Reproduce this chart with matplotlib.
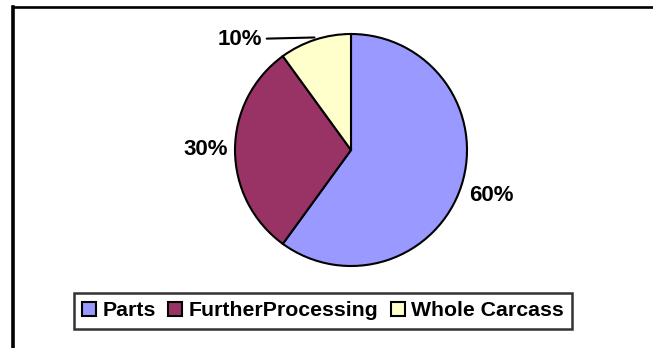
import numpy as np
import matplotlib
matplotlib.use("Agg")
import matplotlib.pyplot as plt
from matplotlib.lines import Line2D

categories = ["Parts", "FurtherProcessing", "Whole Carcass"]
shares = [60, 30, 10]
colors = ["#9999FF", "#993366", "#FFFFCC"]

plt.rcParams["font.family"] = ["Liberation Sans", "DejaVu Sans"]
plt.rcParams["font.weight"] = "bold"

W, H = 653, 348
fig = plt.figure(figsize=(W / 100, H / 100), dpi=100)
ax = fig.add_axes([0, 0, 1, 1])

wedges, _ = ax.pie(shares, colors=colors, startangle=90, counterclock=False,
                   radius=1, wedgeprops=dict(edgecolor="black", linewidth=1.5))

# pixel layout: centre (351,150), radius 116
cx, cy, r = 351, 150, 116
ax.set_xlim(-cx / r, (W - cx) / r)
ax.set_ylim(-(H - cy) / r, cy / r)
ax.set_aspect("auto")
ax.axis("off")

# percentage labels
label_dist = [1.27, 1.255, 1.35]
for w, v, d in zip(wedges, shares, label_dist):
    mid = np.deg2rad((w.theta1 + w.theta2) / 2)
    if v == 10:
        tang = np.deg2rad(135)
        ax.annotate(f"{v}%", xy=(np.cos(mid) * 1.02, np.sin(mid) * 1.02),
                    xytext=(d * np.cos(tang), d * np.sin(tang)),
                    ha="center", va="center", fontsize=16, fontweight="bold",
                    arrowprops=dict(arrowstyle="-", lw=1.5, color="black",
                                    shrinkA=1, shrinkB=0))
    else:
        ax.text(d * np.cos(mid), d * np.sin(mid), f"{v}%",
                ha="center", va="center", fontsize=16, fontweight="bold")

leg = fig.legend(wedges, categories, loc="center", ncol=3,
                 bbox_to_anchor=(323 / W, 1 - 311 / H),
                 prop=dict(weight="bold", size=15.3),
                 frameon=True, fancybox=False, shadow=False,
                 handlelength=0.64, handleheight=0.66, handletextpad=0.31,
                 columnspacing=0.6, borderpad=0.4)
leg.get_frame().set_edgecolor("black")
leg.get_frame().set_linewidth(1.8)

# outer chart border (only top and left visible)
fig.add_artist(Line2D([13 / W, 1], [1 - 6.5 / H, 1 - 6.5 / H],
                      transform=fig.transFigure, color="black", lw=1.9))
fig.add_artist(Line2D([13 / W, 13 / W], [1 - 6.5 / H, 0],
                      transform=fig.transFigure, color="black", lw=2.6))

fig.savefig("out.png", dpi=100, facecolor="white")
